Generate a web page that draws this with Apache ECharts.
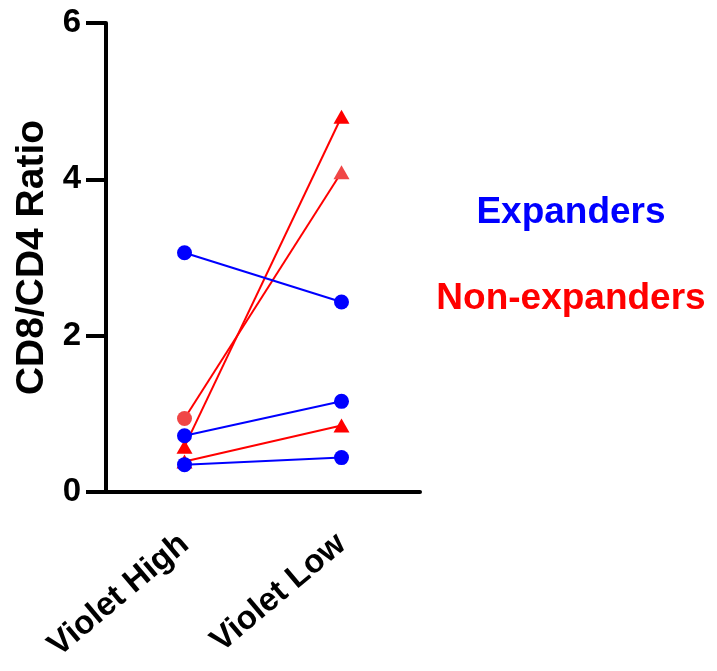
<!DOCTYPE html>
<html>
<head>
<meta charset="utf-8">
<script src="https://cdn.jsdelivr.net/npm/echarts@6/dist/echarts.min.js"></script>
<style>
  html, body { margin: 0; padding: 0; background: #ffffff; }
  #chart { width: 717px; height: 671px; }
</style>
</head>
<body>
<div id="chart"></div>
<script>
// Paired CD8/CD4 ratios, Violet High vs Violet Low
const categories = ['Violet High', 'Violet Low'];
const expandersHigh = [3.06, 0.72, 0.35];
const expandersLow = [2.43, 1.16, 0.44];
const nonExpandersHigh = [0.94, 0.58, 0.39];
const nonExpandersLow = [4.09, 4.80, 0.85];
const yMin = 0, yMax = 6, yStep = 2;

const FONT = '"Liberation Sans", Arial, sans-serif';
const BLUE = '#0000ff';
const RED = '#ff0000';
const RED_LIGHT = '#f04646';

const circle = { symbol: 'circle', symbolSize: 15 };
const triangle = { symbol: 'triangle', symbolSize: [16, 14] };

const series = [];
// Non-expanders first so the blue pairs sit on top
nonExpandersHigh.forEach((hi, i) => {
  const startShape = i === 0 ? circle : triangle;
  const markColor = i === 0 ? RED_LIGHT : RED;
  series.push({
    type: 'line',
    z: 2,
    lineStyle: { color: RED, width: 2 },
    itemStyle: { color: markColor },
    emphasis: { disabled: true },
    data: [
      Object.assign({ value: hi }, startShape),
      Object.assign({ value: nonExpandersLow[i] }, triangle)
    ]
  });
});
expandersHigh.forEach((hi, i) => {
  series.push({
    type: 'line',
    z: 3,
    lineStyle: { color: BLUE, width: 2 },
    itemStyle: { color: BLUE },
    emphasis: { disabled: true },
    data: [
      Object.assign({ value: hi }, circle),
      Object.assign({ value: expandersLow[i] }, circle)
    ]
  });
});

const chart = echarts.init(document.getElementById('chart'), null, { renderer: 'canvas' });
chart.setOption({
  animation: false,
  backgroundColor: '#ffffff',
  grid: { left: 106, top: 23, width: 314, height: 469, containLabel: false },
  xAxis: {
    type: 'category',
    data: categories,
    boundaryGap: true,
    axisLine: { lineStyle: { color: '#000', width: 4 } },
    axisTick: { alignWithLabel: true, length: 20, lineStyle: { color: '#000', width: 4 } },
    axisLabel: {
      interval: 0,
      rotate: 40,
      margin: 48,
      color: '#000',
      fontFamily: FONT,
      fontWeight: 'bold',
      fontSize: 33
    },
    splitLine: { show: false }
  },
  yAxis: {
    type: 'value',
    min: yMin,
    max: yMax,
    interval: yStep,
    name: 'CD8/CD4 Ratio',
    nameLocation: 'middle',
    nameGap: 54,
    nameTextStyle: { color: '#000', fontFamily: FONT, fontWeight: 'bold', fontSize: 39 },
    axisLine: { show: true, lineStyle: { color: '#000', width: 4 } },
    axisTick: { show: true, length: 20, lineStyle: { color: '#000', width: 4 } },
    axisLabel: { margin: 25, color: '#000', fontFamily: FONT, fontWeight: 'bold', fontSize: 33 },
    splitLine: { show: false }
  },
  graphic: [
    {
      type: 'text', x: 571, y: 213,
      style: { text: 'Expanders', fill: BLUE, font: 'bold 37px ' + FONT, textAlign: 'center', textVerticalAlign: 'middle' }
    },
    {
      type: 'text', x: 571, y: 299,
      style: { text: 'Non-expanders', fill: RED, font: 'bold 37px ' + FONT, textAlign: 'center', textVerticalAlign: 'middle' }
    }
  ],
  series: series
});
</script>
</body>
</html>
